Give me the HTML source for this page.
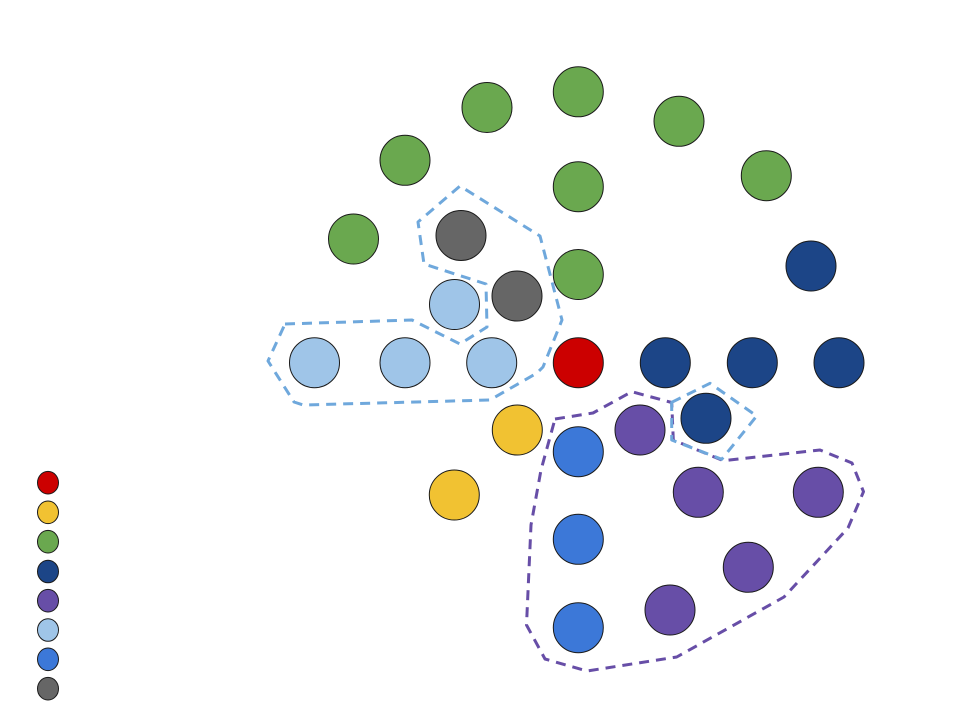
<!DOCTYPE html>
<html><head><meta charset="utf-8"><style>
html,body{margin:0;padding:0;background:#fff;}
svg{display:block;}
</style></head><body>
<svg width="960" height="720" viewBox="0 0 960 720" xmlns="http://www.w3.org/2000/svg">
<rect width="960" height="720" fill="#fff"/>
<g stroke="#1a1a1a" stroke-width="1">
<!-- green -->
<g fill="#6aa84f">
<circle cx="487" cy="107.5" r="25"/>
<circle cx="578.3" cy="91.8" r="25"/>
<circle cx="679" cy="121.3" r="25"/>
<circle cx="766.3" cy="175.7" r="25"/>
<circle cx="405" cy="160.3" r="25"/>
<circle cx="578.3" cy="186.7" r="25"/>
<circle cx="353.5" cy="239" r="25"/>
<circle cx="578.3" cy="274.5" r="25"/>
</g>
<!-- gray -->
<g fill="#666666">
<circle cx="461" cy="235.5" r="25"/>
<circle cx="517" cy="296" r="25"/>
</g>
<!-- light blue -->
<g fill="#9fc5e8">
<circle cx="454.5" cy="304.5" r="25"/>
<circle cx="314.5" cy="362.7" r="25"/>
<circle cx="405" cy="362.7" r="25"/>
<circle cx="491.7" cy="362.7" r="25"/>
</g>
<!-- red -->
<circle cx="578.3" cy="362.7" r="25" fill="#cc0000"/>
<!-- dark blue -->
<g fill="#1c4587">
<circle cx="665.3" cy="362.7" r="25"/>
<circle cx="752.3" cy="362.7" r="25"/>
<circle cx="839" cy="362.7" r="25"/>
<circle cx="811" cy="266" r="25"/>
<circle cx="706" cy="418.3" r="25"/>
</g>
<!-- yellow -->
<g fill="#f1c232">
<circle cx="517.3" cy="430" r="25"/>
<circle cx="454.3" cy="495" r="25"/>
</g>
<!-- blue -->
<g fill="#3c78d8">
<circle cx="578.3" cy="451.7" r="25"/>
<circle cx="578.3" cy="539.3" r="25"/>
<circle cx="578.3" cy="627.7" r="25"/>
</g>
<!-- purple -->
<g fill="#674ea7">
<circle cx="640" cy="430" r="25"/>
<circle cx="698.3" cy="492.3" r="25"/>
<circle cx="818.3" cy="492.3" r="25"/>
<circle cx="748.3" cy="567.3" r="25"/>
<circle cx="670" cy="610" r="25"/>
</g>
<!-- legend -->
<ellipse cx="48" cy="482.7" rx="10.5" ry="11.3" fill="#cc0000"/>
<ellipse cx="48" cy="512.3" rx="10.5" ry="11.3" fill="#f1c232"/>
<ellipse cx="48" cy="541.7" rx="10.5" ry="11.3" fill="#6aa84f"/>
<ellipse cx="48" cy="571.5" rx="10.5" ry="11.3" fill="#1c4587"/>
<ellipse cx="48" cy="600.7" rx="10.5" ry="11.3" fill="#674ea7"/>
<ellipse cx="48" cy="630" rx="10.5" ry="11.3" fill="#9fc5e8"/>
<ellipse cx="48" cy="659.3" rx="10.5" ry="11.3" fill="#3c78d8"/>
<ellipse cx="48" cy="688.7" rx="10.5" ry="11.3" fill="#666666"/>
</g>
<!-- purple dashed hull -->
<polygon fill="none" stroke="#674ea7" stroke-width="3" stroke-dasharray="10,7" stroke-linejoin="round"
points="555,419 593,413 631.7,391.7 671.7,402.5 673.3,440 723.3,460.7 820,450 852,463 863.5,491.7 848,528 784,597 676.7,657 587,671 545,659 526.5,625 531,525 541,470"/>
<!-- light blue dashed hulls -->
<polygon fill="none" stroke="#6fa8dc" stroke-width="3" stroke-dasharray="10,7" stroke-linejoin="round"
points="285,324 412,320 460,344 487,327 486,284 424,264 418,222 460,186 540,236 562,320 543,367 537,373 490,400 303,405 294,402 268,361"/>
<polygon fill="none" stroke="#6fa8dc" stroke-width="3" stroke-dasharray="10,7" stroke-linejoin="round"
points="671.7,402.3 710,383.3 756.7,416 721.7,459.3 671.7,440"/>
</svg>
</body></html>
